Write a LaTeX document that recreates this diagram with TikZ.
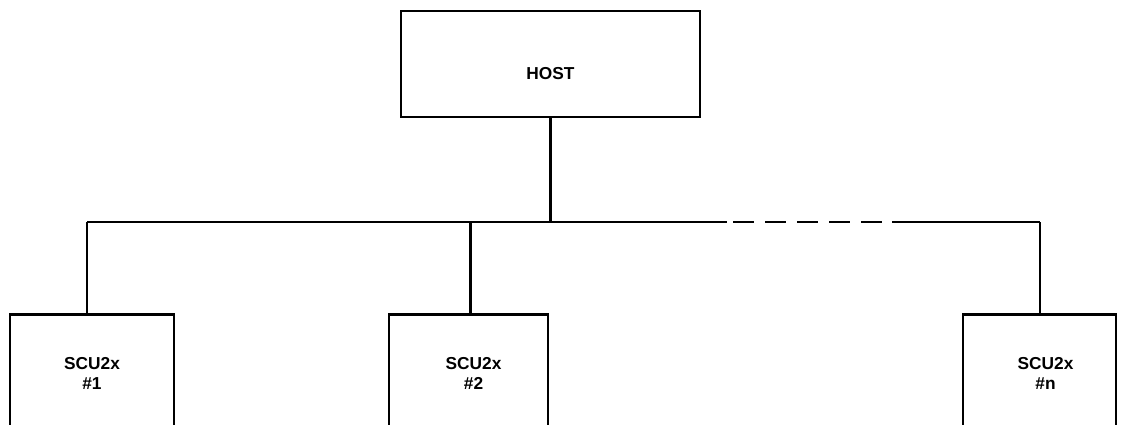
\documentclass[tikz,border=0pt]{standalone}
\usepackage{fontspec}
\setmainfont{Liberation Sans}
\begin{document}
\begin{tikzpicture}[x=1pt,y=-1pt,line width=2.5pt,
  txt/.style={font=\bfseries\fontsize{17.3}{20}\selectfont,align=center,inner sep=0pt},
  hostbox/.style={draw,rectangle,inner sep=0pt,minimum width=299pt,text height=68pt,text depth=38pt,font=\bfseries\fontsize{17.3}{20}\selectfont},
  scubox/.style={draw,rectangle,inner sep=0pt,minimum height=140pt},
  busdash/.style={dash pattern=on 21pt off 11pt,dash phase=26pt}]
\useasboundingbox (0,0) rectangle (1122,425);
\node[hostbox,anchor=north] (host) at (550.5,10) {HOST};
\node[scubox,minimum width=164pt,anchor=north,
  label={[txt,name=t1,anchor=north,yshift=-43pt]north:SCU2x\\\#1}] (s1) at (92,313) {};
\node[scubox,minimum width=159pt,anchor=north,
  label={[txt,name=t2,anchor=north,yshift=-43pt,xshift=5pt]north:SCU2x\\\#2}] (s2) at (468.5,313) {};
\node[scubox,minimum width=153pt,anchor=north,
  label={[txt,name=tn,anchor=north,yshift=-43pt,xshift=6pt]north:SCU2x\\\#n}] (sn) at (1039.5,313) {};
\coordinate (j1) at (87,222);
\coordinate (j2) at (470.5,222);
\coordinate (jh) at (550.5,222);
\coordinate (d1) at (727,222);
\coordinate (d2) at (892,222);
\coordinate (jn) at (1040,222);
\draw (host.south) -- (jh);
\draw (j1) -- (d1);
\draw[busdash] (d1) -- (d2);
\draw (d2) -- (jn);
\draw (j1) -- (j1 |- s1.north);
\draw (j2) -- (j2 |- s2.north);
\draw (jn) -- (jn |- sn.north);
\end{tikzpicture}
\end{document}
